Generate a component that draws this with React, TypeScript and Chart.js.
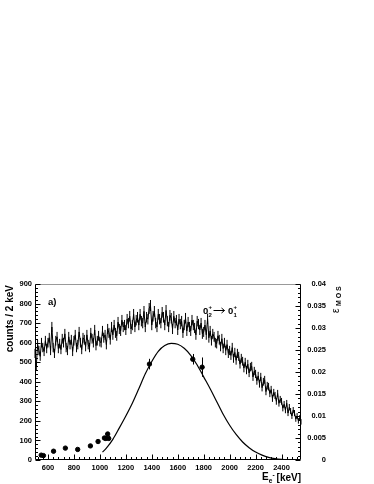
import React, { useEffect, useRef } from 'react';
import { Chart, registerables } from 'chart.js';

Chart.register(...registerables);

// Histogram: counts per bin, bins start at 500 keV, 10 keV apart
const histStartKeV = 500;
const histStepKeV = 10;
const histCounts = [
  545, 480, 590, 560, 530, 600, 575, 555, 610, 570,
  600, 625, 560, 680, 575, 545, 610, 630, 570, 595,
  565, 620, 600, 645, 575, 560, 630, 590, 615, 555,
  610, 640, 575, 590, 655, 600, 565, 625, 615, 580,
  640, 590, 575, 650, 620, 600, 665, 585, 610, 635,
  605, 600, 660, 625, 640, 590, 670, 650, 615, 680,
  640, 690, 650, 635, 705, 670, 660, 715, 680, 690,
  665, 720, 700, 735, 670, 690, 745, 680, 715, 730,
  690, 745, 710, 700, 760, 680, 730, 720, 775, 790,
  690, 735, 760, 700, 680, 745, 720, 700, 755, 730,
  690, 765, 710, 680, 740, 725, 670, 735, 700, 715,
  665, 720, 695, 710, 650, 690, 725, 660, 705, 680,
  660, 715, 690, 675, 640, 710, 695, 665, 700, 645,
  655, 690, 640, 722, 625, 660, 610, 645, 630, 600,
  595, 635, 615, 580, 620, 570, 600, 560, 590, 545,
  560, 535, 575, 520, 550, 510, 545, 530, 490, 520,
  505, 470, 500, 460, 490, 445, 475, 480, 425, 455,
  440, 405, 430, 390, 425, 370, 400, 410, 350, 380,
  375, 340, 360, 315, 345, 330, 300, 340, 290, 310,
  300, 265, 285, 255, 290, 240, 270, 250, 225, 255,
  240, 210, 225, 200, 215, 195,
];

// Efficiency fit curve (right axis)
const fitEnergy = [1020, 1050, 1100, 1150, 1200, 1250, 1300, 1350, 1400, 1450, 1500, 1550, 1600, 1650, 1700, 1750, 1800, 1850, 1900, 1950, 2000, 2050, 2100, 2150, 2200, 2250, 2300, 2350, 2400, 2450, 2500];
const fitEff = [0.0018, 0.0027, 0.0047, 0.0073, 0.0100, 0.0129, 0.0162, 0.0196, 0.0224, 0.0247, 0.0260, 0.0265, 0.0263, 0.0254, 0.0238, 0.0216, 0.0189, 0.0162, 0.0133, 0.0104, 0.0079, 0.0058, 0.0041, 0.0028, 0.0018, 0.0011, 0.0006, 0.0003, 0.00013, 0.00004, 0];

// Measured efficiency points with errors
const pointEnergy = [548, 565, 643, 734, 829, 927, 986, 1035, 1045, 1060, 1068, 1382, 1716, 1788];
const pointEff = [0.0011, 0.0010, 0.0020, 0.0027, 0.0024, 0.0032, 0.0042, 0.0050, 0.0049, 0.0059, 0.0049, 0.0218, 0.0229, 0.0211];
const pointErr = [0.0002, 0.0002, 0.0002, 0.0002, 0.0002, 0.0002, 0.0002, 0.0003, 0.0003, 0.0005, 0.0003, 0.0012, 0.0012, 0.0022];

const xMajorTicks = [600, 800, 1000, 1200, 1400, 1600, 1800, 2000, 2200, 2400];
const xRange = [500, 2550];
const yRange = [0, 900];
const y2Range = [0, 0.04];

const FONT = '"Liberation Sans", Arial, sans-serif';

const rootStylePlugin = {
  id: 'rootStyle',
  afterDatasetsDraw(chart: any) {
    const ctx = chart.ctx;
    const { x, y, y2 } = chart.scales;
    ctx.save();
    ctx.strokeStyle = '#000';
    ctx.lineWidth = 1;
    // histogram statistical error bars
    ctx.beginPath();
    for (let i = 0; i < histCounts.length; i++) {
      const e = histStartKeV + histStepKeV * i;
      if (e > xRange[1]) break;
      const px = x.getPixelForValue(e);
      const err = Math.sqrt(histCounts[i]);
      ctx.moveTo(px, y.getPixelForValue(histCounts[i] + err));
      ctx.lineTo(px, y.getPixelForValue(histCounts[i] - err));
    }
    ctx.stroke();
    // efficiency point error bars
    for (let i = 0; i < pointEnergy.length; i++) {
      const px = Math.round(x.getPixelForValue(pointEnergy[i])) + 0.5;
      const top = y2.getPixelForValue(pointEff[i] + pointErr[i]);
      const bot = y2.getPixelForValue(pointEff[i] - pointErr[i]);
      ctx.beginPath();
      ctx.moveTo(px, top);
      ctx.lineTo(px, bot);
      ctx.stroke();
    }
    ctx.restore();
  },
  afterDraw(chart: any) {
    const ctx = chart.ctx;
    const { x, y, y2 } = chart.scales;
    const a = chart.chartArea;
    const L = Math.round(a.left) + 0.5, R = Math.round(a.right) - 0.5;
    const T = Math.round(a.top) + 0.5, B = Math.round(a.bottom) - 0.5;
    ctx.save();
    ctx.lineWidth = 1;
    ctx.strokeStyle = '#999';
    ctx.beginPath(); ctx.moveTo(L, T); ctx.lineTo(R, T); ctx.stroke();
    ctx.strokeStyle = '#000';
    ctx.beginPath(); ctx.moveTo(L, T); ctx.lineTo(L, B); ctx.lineTo(R, B); ctx.lineTo(R, T); ctx.stroke();
    ctx.beginPath();
    for (let v = 520; v <= xRange[1]; v += 40) {
      const px = Math.round(x.getPixelForValue(v)) + 0.5;
      ctx.moveTo(px, B); ctx.lineTo(px, B - 2.5);
    }
    for (const v of xMajorTicks) {
      const px = Math.round(x.getPixelForValue(v)) + 0.5;
      ctx.moveTo(px, B); ctx.lineTo(px, B - 5);
    }
    for (let v = 0; v <= yRange[1]; v += 20) {
      const py = Math.round(y.getPixelForValue(v)) + 0.5;
      ctx.moveTo(L, py); ctx.lineTo(L + (v % 100 === 0 ? 5 : 2.5), py);
    }
    for (let k = 0; k <= 40; k++) {
      const py = Math.round(y2.getPixelForValue(k * 0.001)) + 0.5;
      ctx.moveTo(R, py); ctx.lineTo(R - (k % 5 === 0 ? 5 : 2.5), py);
    }
    ctx.stroke();

    ctx.fillStyle = '#000';
    // y title
    ctx.save();
    ctx.translate(10, a.top + 1);
    ctx.rotate(-Math.PI / 2);
    ctx.font = `bold 10px ${FONT}`;
    ctx.textAlign = 'right';
    ctx.textBaseline = 'middle';
    ctx.fillText('counts / 2 keV', 0, 0);
    ctx.restore();

    // right title epsilon_MOS
    ctx.save();
    ctx.rotate(-Math.PI / 2);
    ctx.textAlign = 'left';
    ctx.textBaseline = 'middle';
    ctx.font = `10px ${FONT}`;
    ctx.fillText('\u03B5', -313, 336);
    ctx.font = `bold 7px ${FONT}`;
    (ctx as any).letterSpacing = '1.8px';
    ctx.fillText('MOS', -306, 339.5);
    ctx.restore();

    // x title
    ctx.textBaseline = 'alphabetic';
    ctx.textAlign = 'right';
    ctx.font = `bold 10px ${FONT}`;
    ctx.fillText('[keV]', a.right, 481);
    ctx.textAlign = 'left';
    ctx.fillText('E', 262, 480);
    ctx.font = `bold 6.5px ${FONT}`;
    ctx.fillText('e', 268.8, 482.5);
    ctx.fillText('-', 272.6, 477);

    // a)
    ctx.font = `bold 9.5px ${FONT}`;
    ctx.fillText('a)', 48, 305);

    // 0_2^+ -> 0_1^+
    ctx.font = `bold 9.5px ${FONT}`;
    ctx.fillText('0', 203, 314);
    ctx.font = `bold 6px ${FONT}`;
    ctx.fillText('+', 208.5, 309);
    ctx.fillText('2', 208.5, 317);
    ctx.lineWidth = 1;
    ctx.beginPath();
    ctx.moveTo(213.5, 310.5); ctx.lineTo(224.5, 310.5);
    ctx.moveTo(221.5, 308); ctx.lineTo(224.5, 310.5); ctx.lineTo(221.5, 313);
    ctx.stroke();
    ctx.font = `bold 9.5px ${FONT}`;
    ctx.fillText('0', 228, 314);
    ctx.font = `bold 6px ${FONT}`;
    ctx.fillText('+', 233.5, 309);
    ctx.fillText('1', 233.5, 317);
    ctx.restore();
  },
};

export default function App() {
  const ref = useRef<HTMLCanvasElement | null>(null);
  useEffect(() => {
    document.body.style.margin = '0';
    const canvas = ref.current!;
    const histData = histCounts.map((c, i) => ({ x: histStartKeV + histStepKeV * i, y: c }));
    const fitData = fitEnergy.map((e, i) => ({ x: e, y: fitEff[i] }));
    const ptData = pointEnergy.map((e, i) => ({ x: e, y: pointEff[i] }));
    const tickFont = { family: FONT, size: 7.5, weight: 'bold' as const };
    const noGrid = { display: false, drawTicks: false };
    const chart = new Chart(canvas, {
      type: 'line',
      data: {
        datasets: [
          {
            data: histData,
            yAxisID: 'y',
            borderColor: '#000',
            borderWidth: 1,
            pointRadius: 0,
            tension: 0,
            fill: false,
          },
          {
            data: fitData,
            yAxisID: 'y2',
            borderColor: '#000',
            borderWidth: 1.2,
            pointRadius: 0,
            cubicInterpolationMode: 'monotone',
            fill: false,
          },
          {
            type: 'scatter',
            data: ptData,
            yAxisID: 'y2',
            backgroundColor: '#000',
            borderColor: '#000',
            pointRadius: 2.2,
            showLine: false,
          } as any,
        ],
      },
      options: {
        responsive: false,
        animation: false,
        devicePixelRatio: 1,
        layout: { padding: { top: 284, left: 0, right: 48, bottom: 0 } },
        plugins: { legend: { display: false }, tooltip: { enabled: false }, title: { display: false } },
        scales: {
          x: {
            type: 'linear',
            min: xRange[0],
            max: xRange[1],
            grid: noGrid,
            border: { display: false },
            afterBuildTicks: (s: any) => { s.ticks = xMajorTicks.map((v) => ({ value: v })); },
            afterFit: (s: any) => { s.height = 24; },
            ticks: { font: tickFont, color: '#000', padding: 3, maxRotation: 0, autoSkip: false, callback: (v: any) => String(v) },
          },
          y: {
            type: 'linear',
            position: 'left',
            min: yRange[0],
            max: yRange[1],
            grid: noGrid,
            border: { display: false },
            afterFit: (s: any) => { s.width = 35; },
            ticks: { stepSize: 100, font: tickFont, color: '#000', padding: 3, callback: (v: any) => String(v) },
          },
          y2: {
            type: 'linear',
            position: 'right',
            min: y2Range[0],
            max: y2Range[1],
            grid: noGrid,
            border: { display: false },
            afterFit: (s: any) => { s.width = 25; },
            ticks: { stepSize: 0.005, font: tickFont, color: '#000', padding: 6, crossAlign: 'far', callback: (v: any) => String(+Number(v).toFixed(3)) },
          },
        },
      },
      plugins: [rootStylePlugin],
    });
    return () => chart.destroy();
  }, []);
  return (
    <div style={{ width: 374, height: 484, background: '#fff' }}>
      <canvas ref={ref} width={374} height={484} style={{ display: 'block' }} />
    </div>
  );
}
